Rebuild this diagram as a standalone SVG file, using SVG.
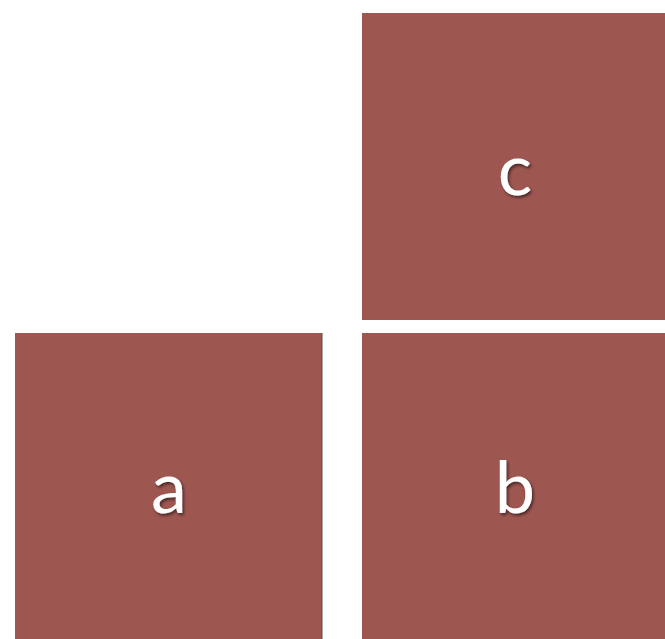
<svg xmlns="http://www.w3.org/2000/svg" width="665" height="639" viewBox="0 0 665 639">
  <style>
    .box { fill: #9e5651; }
    .lbl { font-family: Lato, "Open Sans", "DejaVu Sans", sans-serif; font-size: 72px; fill: #ffffff; text-anchor: middle; filter: url(#shadow); }
  </style>
  <defs>
    <filter id="shadow" x="-50%" y="-50%" width="200%" height="200%">
      <feDropShadow dx="1.5" dy="2" stdDeviation="1.5" flood-color="#000000" flood-opacity="0.55"/>
    </filter>
  </defs>
  <rect width="665" height="639" fill="#ffffff"/>
  <g id="node-c">
    <rect class="box" x="362" y="13" width="303" height="307"/>
    <text class="lbl" x="515" y="195">c</text>
  </g>
  <g id="node-a">
    <rect class="box" x="15" y="333" width="307" height="306"/>
    <line x1="322" y1="333" x2="322" y2="639" stroke="#5a4a48" stroke-width="1"/>
    <text class="lbl" x="169" y="513">a</text>
  </g>
  <g id="node-b">
    <rect class="box" x="362" y="333" width="303" height="306"/>
    <text class="lbl" x="515" y="513">b</text>
  </g>
  <g id="connectors"></g>
</svg>
